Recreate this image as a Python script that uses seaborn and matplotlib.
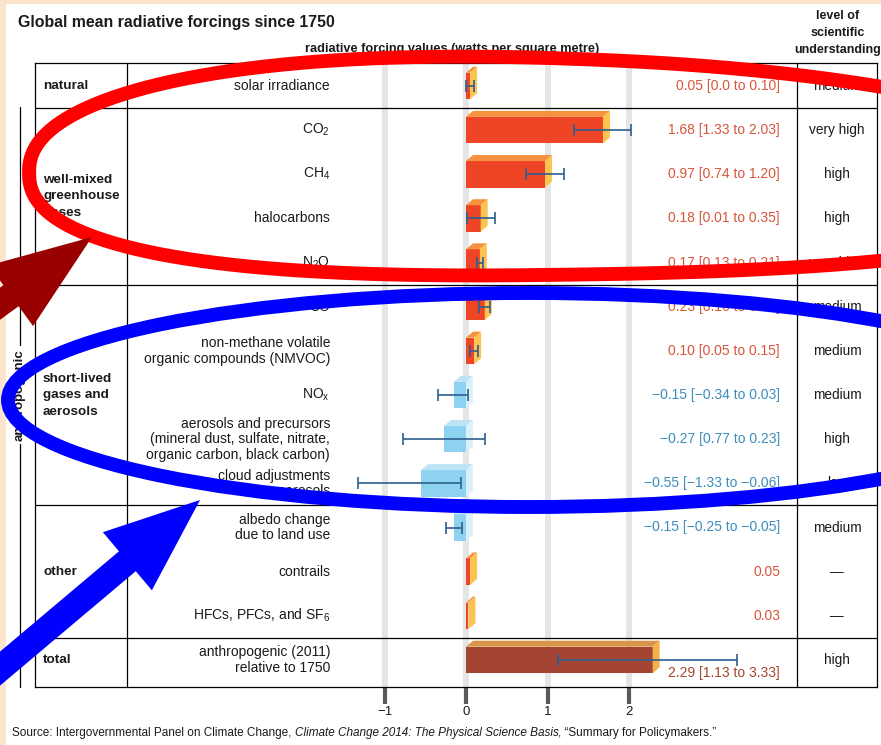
"""
Global mean radiative forcings since 1750 (IPCC AR5 SPM style table chart).
"""

import numpy as np
import pandas as pd
import matplotlib
matplotlib.use("Agg")
import matplotlib.pyplot as plt
import seaborn as sns
from matplotlib.patches import Polygon, Ellipse, FancyArrow, Rectangle
from matplotlib.transforms import Affine2D


# ---- data (rows top to bottom) ----
keys = ["solar", "co2", "ch4", "halo", "n2o", "co", "nmvoc", "nox",
        "aerosol", "cloud", "albedo", "contrails", "hfc", "total"]
row_labels = [
    "solar irradiance",
    "CO$_\\mathregular{2}$",
    "CH$_\\mathregular{4}$",
    "halocarbons",
    "N$_\\mathregular{2}$O",
    "CO",
    "non-methane volatile\norganic compounds (NMVOC)",
    "NO$_\\mathregular{x}$",
    "aerosols and precursors\n(mineral dust, sulfate, nitrate,\norganic carbon, black carbon)",
    "cloud adjustments\ndue to aerosols",
    "albedo change\ndue to land use",
    "contrails",
    "HFCs, PFCs, and SF$_\\mathregular{6}$",
    "anthropogenic (2011)\nrelative to 1750",
]
values = [0.05, 1.68, 0.97, 0.18, 0.17, 0.23, 0.10, -0.15, -0.27, -0.55, -0.15, 0.05, 0.03, 2.29]
lows = [0.00, 1.33, 0.74, 0.01, 0.13, 0.16, 0.05, -0.34, -0.77, -1.33, -0.25, np.nan, np.nan, 1.13]
highs = [0.10, 2.03, 1.20, 0.35, 0.21, 0.30, 0.15, 0.03, 0.23, -0.06, -0.05, np.nan, np.nan, 3.33]
value_texts = [
    "0.05 [0.0 to 0.10]", "1.68 [1.33 to 2.03]", "0.97 [0.74 to 1.20]",
    "0.18 [0.01 to 0.35]", "0.17 [0.13 to 0.21]", "0.23 [0.16 to 0.30]",
    "0.10 [0.05 to 0.15]", "−0.15 [−0.34 to 0.03]", "−0.27 [0.77 to 0.23]",
    "−0.55 [−1.33 to −0.06]", "−0.15 [−0.25 to −0.05]", "0.05", "0.03",
    "2.29 [1.13 to 3.33]",
]
levels = ["medium", "very high", "high", "high", "very high", "medium", "medium",
          "medium", "high", "low", "medium", "—", "—", "high"]
groups = ["natural", "well-mixed\ngreenhouse\ngases", "short-lived\ngases and\naerosols",
          "other", "total"]
group_sizes = [1, 4, 5, 3, 1]
ticks = [-1, 0, 1, 2]
tick_labels = ["−1", "0", "1", "2"]

# ---- styling ----
FRONT = {"pos": "#EE4526", "neg": "#8ED2F1", "tot": "#A64433"}
TOP = {"pos": "#F6923E", "neg": "#BCE4F6", "tot": "#D9944A"}
SIDE = {"pos": "#FCC350", "neg": "#DCF0FA", "tot": "#F4B04A"}
TXT = {"pos": "#D9553B", "neg": "#3C8DBE", "tot": "#A8442F"}
ERR = "#2E5F8F"

W, H, DPI = 881, 745, 100
X0, UNIT = 466.0, 81.5      # pixel of zero, pixels per W/m2
ROW0, ROWH = 86.0, 44.15    # pixel of first row centre, row pitch


def hx(p):
    return (p - X0) / UNIT


sns.set_style("white")
plt.rcParams["font.family"] = ["Liberation Sans", "DejaVu Sans"]
plt.rcParams["mathtext.fontset"] = "custom"
plt.rcParams["mathtext.rm"] = "Liberation Sans"
plt.rcParams["mathtext.it"] = "Liberation Sans:italic"
plt.rcParams["mathtext.bf"] = "Liberation Sans:bold"

fig = plt.figure(figsize=(W / DPI, H / DPI), dpi=DPI)
fig.patch.set_facecolor("#FCE4CC")
px = Affine2D().scale(1, -1).translate(0, H).scale(1 / DPI) + fig.dpi_scale_trans
fig.add_artist(Rectangle((6, 4), W, H, transform=px, facecolor="white",
                         edgecolor="none", zorder=-5))

ax = fig.add_axes([35 / W, 1 - 687 / H, 842 / W, 624 / H])

kinds = ["tot" if k == "total" else ("pos" if v >= 0 else "neg") for k, v in zip(keys, values)]
df = pd.DataFrame({"key": keys, "value": values, "kind": kinds})

sns.barplot(data=df, x="value", y="key", hue="key",
            palette={k: FRONT[c] for k, c in zip(keys, kinds)},
            orient="y", width=0.6, saturation=1, errorbar=None,
            legend=False, linewidth=0, ax=ax, zorder=2)
bars = list(ax.patches)

ax.set_xlim(hx(35), hx(877))
ax.set_ylim((687 - ROW0) / ROWH, (63 - ROW0) / ROWH)

# pseudo-3D faces on each bar
ddx, ddy = 7 / UNIT, 6 / ROWH
for bar, kind in zip(bars, kinds):
    x, w = bar.get_x(), bar.get_width()
    y, h = bar.get_y(), bar.get_height()
    xl, xr = min(x, x + w), max(x, x + w)
    yt, yb = min(y, y + h), max(y, y + h)
    ax.add_patch(Polygon([(xl, yt), (xr, yt), (xr + ddx, yt - ddy), (xl + ddx, yt - ddy)],
                         closed=True, facecolor=TOP[kind], edgecolor="none", zorder=2))
    ax.add_patch(Polygon([(xr, yt), (xr + ddx, yt - ddy), (xr + ddx, yb - ddy), (xr, yb)],
                         closed=True, facecolor=SIDE[kind], edgecolor="none", zorder=2))

# uncertainty ranges
pos = np.arange(len(keys))
v = np.array(values)
lo = np.array(lows)
hi = np.array(highs)
m = ~np.isnan(lo)
ax.errorbar(v[m], pos[m], xerr=[v[m] - lo[m], hi[m] - v[m]], fmt="none",
            ecolor=ERR, elinewidth=1.2, capsize=4.6, capthick=1.2, zorder=4)

# grid bands
for t in ticks:
    ax.axvline(t, color="#E5E5E5", lw=4.3, zorder=0.5)

# table lines
edges = np.cumsum(group_sizes)[:-1] - 0.5
for b in edges:
    ax.axhline(b, color="black", lw=0.9, zorder=3)
ax.axvline(hx(127), color="black", lw=0.9, zorder=3)
ax.axvline(hx(797), color="black", lw=0.9, zorder=3)
for s in ax.spines.values():
    s.set_visible(True)
    s.set_color("black")
    s.set_linewidth(0.9)

# row texts
for i, (lab, vt, lev, kind) in enumerate(zip(row_labels, value_texts, levels, kinds)):
    ax.text(hx(330), i, lab, ha="right", va="center", fontsize=10,
            linespacing=1.15, color="#1A1A1A", zorder=3)
    ax.text(hx(780), i + (0.3 if kind == "tot" else 0), vt, ha="right",
            va="center", fontsize=10, color=TXT[kind], zorder=3)
    ax.text(hx(837), i, lev, ha="center", va="center", fontsize=9.8,
            color="#1A1A1A", zorder=3)

start = 0
for g, n in zip(groups, group_sizes):
    ax.text(hx(43), start + (n - 1) / 2, g, ha="left", va="center",
            fontsize=9.7, fontweight="bold", linespacing=1.5, color="#1A1A1A")
    start += n

ax.set_xticks(ticks, tick_labels)
ax.set_yticks([])
ax.set_xlabel("")
ax.set_ylabel("")
ax.tick_params(axis="x", bottom=True, top=False, length=12, width=3,
               color="#5A5A5A", labelsize=9.5, pad=2, labelcolor="#1A1A1A")

# headers
fig.text(18, 22, "Global mean radiative forcings since 1750", transform=px,
         fontsize=11.4, fontweight="bold", va="center", color="#1A1A1A")
fig.text(305, 49, "radiative forcing values (watts per square metre)", transform=px,
         fontsize=9.2, fontweight="bold", va="center", color="#1A1A1A")
fig.text(838, 33, "level of\nscientific\nunderstanding", transform=px,
         fontsize=9.0, fontweight="bold", ha="center", va="center",
         linespacing=1.55, color="#1A1A1A")

# anthropogenic bracket
fig.add_artist(plt.Line2D([20, 20], [107, 687], transform=px, color="black", lw=0.9))
fig.text(20, 395, "anthropogenic", transform=px, rotation=90, ha="center", va="center",
         fontsize=9.5, fontweight="bold", color="#1A1A1A",
         bbox=dict(facecolor="white", edgecolor="none", pad=2))

# source line with italic title
renderer = fig.canvas.get_renderer()
parts = [("Source: Intergovernmental Panel on Climate Change,", "normal"),
         ("Climate Change 2014: The Physical Science Basis", "italic"),
         (", “Summary for Policymakers.”", "normal")]
FS_SRC = 8.5
sp = fig.text(0, 0, "a a", fontsize=FS_SRC)
sp2 = fig.text(0, 0, "aa", fontsize=FS_SRC)
space_w = sp.get_window_extent(renderer).width - sp2.get_window_extent(renderer).width
sp.remove()
sp2.remove()
cx = 12
for i, (s, style) in enumerate(parts):
    t = fig.text(cx, 733, s, transform=px, fontsize=FS_SRC, style=style,
                 va="center", color="#1A1A1A")
    cx += t.get_window_extent(renderer).width
    if i == 0:
        cx += space_w

# hand-drawn overlay marks
# red loop: a slightly squarish, egg-shaped ring that sags a little at both ends
tt = np.linspace(0, 2 * np.pi, 500)
n_exp, k_egg = 2.3, 0.12
xn = np.sign(np.cos(tt)) * np.abs(np.cos(tt)) ** (2 / n_exp)
yn = np.sign(np.sin(tt)) * np.abs(np.sin(tt)) ** (2 / n_exp)
rx = 569 + 540 * xn
ry = 166 + 108 * yn * (1 - k_egg * xn) + 0.00004 * (rx - 440) ** 2
fig.add_artist(plt.Line2D(rx, ry, transform=px, color="#FF0000", lw=10, zorder=10,
                          solid_joinstyle="round"))
fig.add_artist(Ellipse((529, 400), 1042, 214, transform=px, fill=False,
                       edgecolor="#0000FF", lw=10, zorder=10))
fig.add_artist(FancyArrow(-119, 390, 211, -153, width=26, head_width=75,
                          head_length=100, length_includes_head=True,
                          transform=px, color="#990000", lw=0, zorder=11))
fig.add_artist(FancyArrow(-29.5, 693.5, 229.5, -193.5, width=26, head_width=76,
                          head_length=95, length_includes_head=True,
                          transform=px, color="#0000FF", lw=0, zorder=11))

fig.savefig("out.png", dpi=DPI)
plt.close(fig)
